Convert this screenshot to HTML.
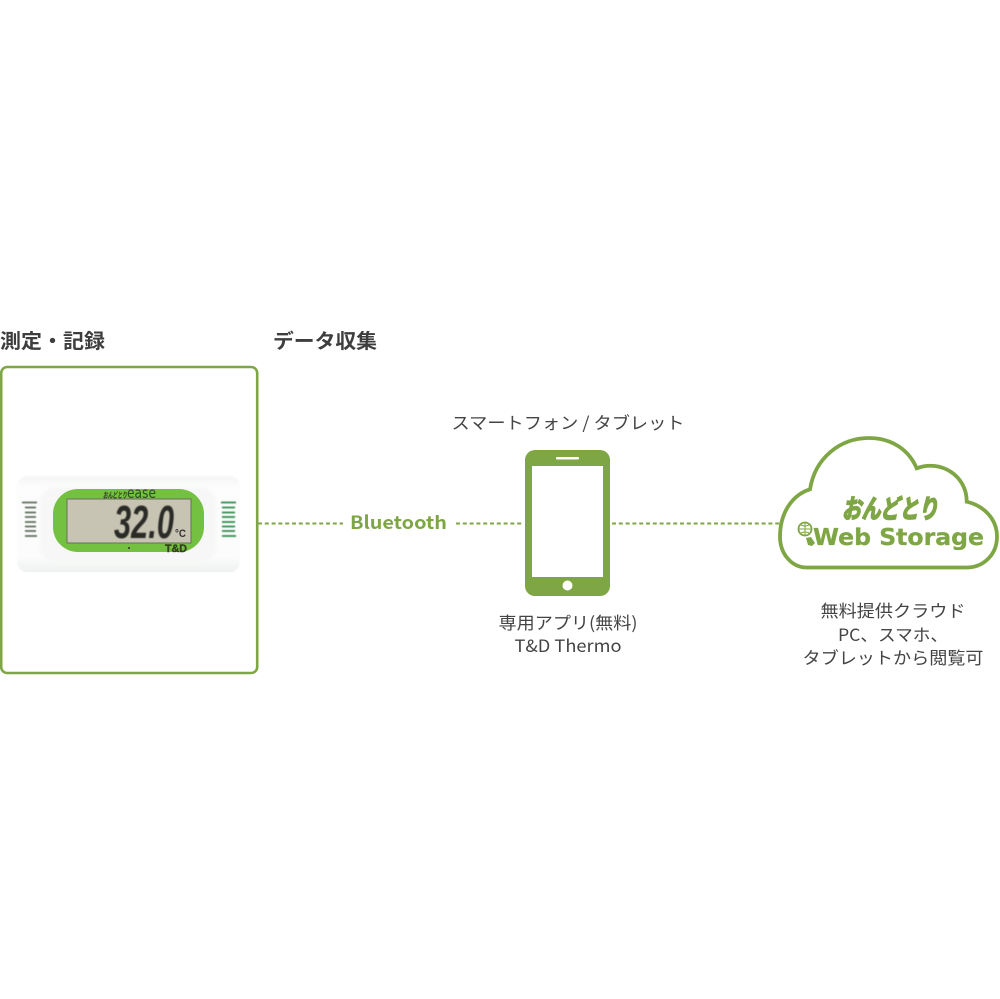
<!DOCTYPE html>
<html lang="ja">
<head>
<meta charset="utf-8">
<title>Diagram</title>
<style>
html,body{margin:0;padding:0;background:#fff;width:1000px;height:999px;overflow:hidden}
svg{display:block}
text{font-family:"Noto Sans CJK JP",sans-serif}
.h{font-size:20px;font-weight:700;fill:#3e3e3e}
.t{font-size:17px;fill:#444;text-anchor:middle}
</style>
</head>
<body>
<svg width="1000" height="999" viewBox="0 0 1000 999" xmlns="http://www.w3.org/2000/svg">
<defs>
<filter id="b" x="-5%" y="-5%" width="110%" height="110%"><feGaussianBlur stdDeviation="0.4"/></filter>
<filter id="s" x="-5%" y="-10%" width="110%" height="120%"><feGaussianBlur stdDeviation="1.5"/></filter>
<linearGradient id="body" x1="0" y1="0" x2="0" y2="1">
<stop offset="0" stop-color="#f4f6f4"/><stop offset=".12" stop-color="#fcfdfc"/>
<stop offset=".85" stop-color="#fbfcfb"/><stop offset="1" stop-color="#eef1ef"/>
</linearGradient>
</defs>

<text class="h" x="0" y="348" textLength="105" lengthAdjust="spacingAndGlyphs">測定・記録</text>
<text class="h" x="273" y="348" textLength="104" lengthAdjust="spacingAndGlyphs">データ収集</text>

<rect x="1.200" y="367" width="256" height="306" rx="6" fill="#fff" stroke="#7fa644" stroke-width="2.600"/>

<!-- logger device -->
<rect x="17" y="476" width="223" height="96" rx="10" fill="url(#body)" filter="url(#b)"/>
<rect x="40" y="487" width="176" height="75" rx="16" fill="#f6f7f6" filter="url(#s)"/>
<rect x="53" y="489" width="151" height="63" rx="25" fill="#74c040"/>
<rect x="67" y="499" width="124" height="44" fill="#c8c4b3" stroke="#68705c" stroke-width="1"/>
<g stroke-width="1.800" filter="url(#b)">
<g stroke="#5f6d5c">
<path d="M22 502.500h15M25 507.500h11M25 512.500h11M25 517h11M25 522h11M25 526.500h11M25 531h11M25 536h12"/>
</g>
<g stroke="#2f8a4e">
<path d="M221 502.500h15M222 507.500h13M222 512.500h13M222 517h13M222 522h13M222 526.500h13M222 531h13M222 536h14"/>
</g>
</g>
<text x="103" y="498" font-size="8" font-weight="900" fill="#3a4a2a" textLength="24" lengthAdjust="spacingAndGlyphs" style="font-style:italic">おんどとり</text>
<text x="127" y="498" font-size="15" fill="#2f4a24" textLength="29" lengthAdjust="spacingAndGlyphs" style="font-family:'DejaVu Sans',sans-serif">ease</text>
<text x="114" y="538" font-size="46" font-weight="700" fill="#2c2c28" textLength="60" lengthAdjust="spacingAndGlyphs" style="font-style:italic;font-family:'Liberation Sans',sans-serif" filter="url(#b)">32.0</text>
<text x="175" y="537" font-size="11" font-weight="700" fill="#333" textLength="11" lengthAdjust="spacingAndGlyphs" style="font-family:'Liberation Sans',sans-serif">°C</text>
<circle cx="129" cy="548" r="1" fill="#333"/>
<text x="165" y="552" font-size="11" font-weight="900" fill="#34421f" stroke="#34421f" stroke-width=".4" textLength="22" lengthAdjust="spacingAndGlyphs" style="font-family:'Liberation Sans',sans-serif">T&amp;D</text>

<!-- connectors -->
<g stroke="#7fa644" stroke-width="2" stroke-dasharray="4 2.800" fill="none">
<path d="M258 523.500H343"/>
<path d="M456 523.500H524"/>
<path d="M612 523.500H780"/>
</g>
<text x="350" y="529" font-size="18" font-weight="700" fill="#7fa644" textLength="97" lengthAdjust="spacingAndGlyphs">Bluetooth</text>

<!-- phone -->
<text class="t" x="568" y="429" textLength="233" lengthAdjust="spacingAndGlyphs">スマートフォン / タブレット</text>
<rect x="525" y="450" width="85" height="146" rx="10" fill="#7fa644"/>
<rect x="532" y="466" width="71" height="111" fill="#fff"/>
<rect x="556" y="457" width="23" height="2.500" rx="1" fill="#fff"/>
<circle cx="567.500" cy="585.500" r="5" fill="#fff"/>
<text class="t" x="568" y="629" textLength="139" lengthAdjust="spacingAndGlyphs">専用アプリ(無料)</text>
<text class="t" x="568" y="652" textLength="107" lengthAdjust="spacingAndGlyphs">T&amp;D Thermo</text>

<!-- cloud -->
<path d="M810 489.300C815 458 840 438 869 438C892 438 909 450 916.700 468.300C941 459 967 476 966.700 501.700C985 506 997 520 997 536.700C997 554 984 567.500 966.700 567.500H806.700C791 567.500 780 553 780 536.700C780 513 792 495 810 489.300Z" fill="#fff" stroke="#7fa644" stroke-width="3.800"/>
<text x="842" y="518" font-size="26" font-weight="900" fill="#7fa644" stroke="#7fa644" stroke-width="1" textLength="96" lengthAdjust="spacingAndGlyphs" style="font-style:italic">おんどとり</text>
<circle cx="805" cy="529" r="6.500" fill="#fff" stroke="#7fa644" stroke-width="1.800"/>
<path d="M799 529h12M805 523v12M801 525q4 2 8 0M801 533q4-2 8 0" stroke="#7fa644" stroke-width="1" fill="none"/>
<path d="M806 538l5-1 4 6-3 3-4-1z" fill="#7fa644"/>
<text x="813" y="545" font-size="23" font-weight="700" fill="#7fa644" stroke="#7fa644" stroke-width=".3" textLength="171" lengthAdjust="spacingAndGlyphs" style="font-family:'DejaVu Sans',sans-serif">Web Storage</text>

<text class="t" x="893" y="617" textLength="145" lengthAdjust="spacingAndGlyphs">無料提供クラウド</text>
<text class="t" x="893" y="641" textLength="110" lengthAdjust="spacingAndGlyphs">PC、スマホ、</text>
<text class="t" x="893" y="664" textLength="181" lengthAdjust="spacingAndGlyphs">タブレットから閲覧可</text>
</svg>
</body>
</html>
